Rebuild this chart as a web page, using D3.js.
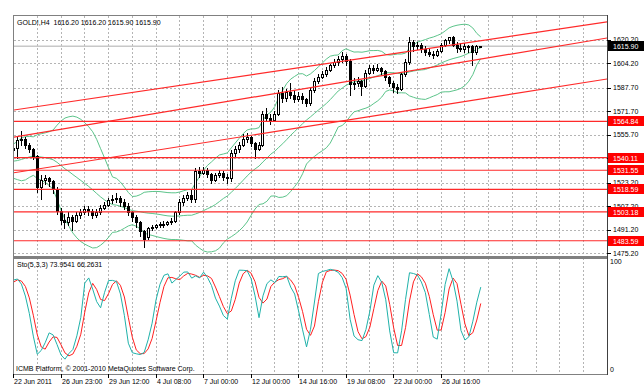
<!DOCTYPE html>
<html>
<head>
<meta charset="utf-8">
<script src="https://cdn.jsdelivr.net/npm/d3@7"></script>
<style>
html, body { margin: 0; padding: 0; background: #fff; }
svg { display: block; font-family: "Liberation Sans", Arial, sans-serif; font-size: 7px; }
</style>
</head>
<body>
<div id="chart"></div>
<script>
// GOLD H4 candles, 22 Jun - 27 Jul 2011
const opens = [1545,1547,1552,1553,1549,1546,1541,1520,1525,1526,1524,1519,1504,1498,1496,1500,1497,1501,1503,1505,
  1504,1501,1503,1506,1508,1511,1512,1513,1510,1507,1503,1500,1496,1490,1486,1492,1493,1494,1495,1495,
  1496,1497,1503,1510,1513,1515,1512,1531,1530,1532,1529,1525,1528,1530,1527,1526,1543,1546,1549,1553,
  1554,1550,1546,1549,1570,1567,1566,1570,1584,1581,1585,1583,1580,1582,1580,1577,1586,1592,1595,1597,
  1600,1603,1605,1607,1609,1606,1590,1591,1592,1589,1598,1601,1600,1601,1599,1595,1591,1588,1587,1597,
  1605,1619,1616,1617,1614,1612,1611,1610,1613,1617,1620,1622,1617,1615,1614,1616,1616,1612,1616.2];
const highs = [1549,1554,1558,1554,1550,1547,1542,1528,1528,1527,1525,1520,1506,1502,1503,1501,1503,1505,1507,1507,
  1505,1505,1508,1510,1513,1515,1516,1514,1512,1509,1504,1501,1497,1491,1493,1494,1495,1496,1497,1497,
  1499,1504,1512,1515,1517,1518,1533,1534,1534,1533,1530,1530,1532,1531,1529,1545,1548,1551,1556,1557,
  1555,1551,1551,1572,1574,1570,1572,1586,1588,1587,1591,1586,1585,1584,1581,1588,1594,1597,1599,1602,
  1604,1607,1609,1612,1611,1607,1594,1595,1593,1600,1603,1603,1604,1602,1600,1596,1592,1590,1598,1607,
  1622,1620,1619,1618,1616,1614,1613,1614,1618,1621,1622.5,1623,1619,1618,1618,1617,1617,1617,1616.2];
const lows = [1542,1540,1549,1547,1544,1539,1517,1512,1522,1521,1516,1502,1495,1492,1494,1491,1496,1499,1502,1501,
  1499,1500,1502,1505,1507,1509,1510,1507,1505,1501,1497,1493,1487,1479,1485,1491,1492,1493,1493,1494,
  1495,1496,1502,1508,1511,1510,1510,1527,1529,1527,1523,1524,1527,1525,1523,1524,1541,1544,1548,1551,
  1548,1540,1545,1548,1565,1563,1565,1569,1578,1579,1581,1578,1579,1577,1575,1576,1585,1591,1594,1596,
  1599,1602,1603,1605,1603,1583,1587,1589,1583,1588,1597,1598,1599,1597,1593,1589,1585,1584,1586,1596,
  1604,1613,1614,1612,1610,1609,1608,1609,1612,1616,1618,1616,1612,1613,1612,1612,1603,1611,1615.9];
const closes = [1547,1552,1553,1549,1546,1541,1520,1525,1526,1524,1519,1504,1498,1496,1500,1497,1501,1503,1505,1504,
  1501,1503,1506,1508,1511,1512,1513,1510,1507,1503,1500,1496,1490,1485,1492,1493,1494,1495,1495,1496,
  1497,1503,1510,1513,1515,1512,1531,1530,1532,1529,1525,1528,1530,1527,1526,1543,1546,1549,1553,1554,
  1550,1546,1549,1570,1567,1566,1570,1584,1581,1585,1583,1580,1582,1580,1577,1586,1592,1595,1597,1600,
  1603,1605,1607,1609,1606,1590,1591,1592,1589,1598,1601,1600,1601,1599,1595,1591,1588,1587,1597,1605,
  1619,1616,1617,1614,1612,1611,1610,1613,1617,1620,1622,1617,1615,1614,1616,1616,1612,1616.2,1615.9];

// bars before the visible window, only used to warm up the indicators
const prevHighs = [1551,1549,1545,1539,1533,1533,1531,1533,1536,1539,1538,1541,1544,1543,1540,1541,1543,1545,1547,1548];
const prevLows = [1545,1542,1536,1530,1526,1527,1525,1527,1530,1533,1533,1535,1539,1538,1535,1536,1538,1540,1542,1543];
const prevCloses = [1548,1544,1538,1532,1528,1530,1527,1531,1534,1537,1535,1539,1542,1540,1537,1539,1541,1543,1545,1546];

// axis labels and captions
const priceTicks = [1620.20, 1604.20, 1587.70, 1571.70, 1555.70, 1539.70, 1523.20, 1507.20, 1491.20, 1475.20];
const timeLabels = ["22 Jun 2011", "26 Jun 23:00", "29 Jun 12:00", "4 Jul 08:00", "7 Jul 00:00",
  "12 Jul 00:00", "14 Jul 16:00", "19 Jul 08:00", "22 Jul 00:00", "26 Jul 16:00"];
const stochCaption = "Sto(5,3,3) 73.9541 66.2631";

// drawn objects
const levels = [1564.84, 1540.11, 1531.55, 1518.59, 1503.18, 1483.59];
const trendStart = [1572.5, 1554.0, 1529.8];   // price at bar 0
const trendEnd = [1632.5, 1621.6, 1593.7];     // price at bar 150
const bid = 1615.90;

const W = 644, H = 386;
const L = 13, R = 607;
const mainTop = 15, mainBottom = 256;
const subTop = 258, subBottom = 374;

const x = d3.scaleLinear().domain([0, 150]).range([13.5, 607.5]);
const y = d3.scaleLinear().domain([1473.2, 1637.2]).range([mainBottom, mainTop]);
const ys = d3.scaleLinear().domain([0, 100]).range([369.5, 261.5]);

const bars = closes.map((c, i) => ({ i, o: opens[i], h: highs[i], l: lows[i], c }));

// Bollinger bands (20, 2)
const allC = prevCloses.concat(closes);
const allH = prevHighs.concat(highs);
const allL = prevLows.concat(lows);
const off = prevCloses.length;
const bands = bars.map(b => {
  const w = allC.slice(b.i + off - 19, b.i + off + 1);
  const m = d3.mean(w);
  const sd = Math.sqrt(d3.mean(w, v => (v - m) * (v - m)));
  return { i: b.i, mid: m, up: m + 2 * sd, lo: m - 2 * sd };
});

// Stochastic (5, 3, 3)
const raw = allC.map((c, j) => {
  if (j < 4) return null;
  const hh = d3.max(allH.slice(j - 4, j + 1));
  const ll = d3.min(allL.slice(j - 4, j + 1));
  return { num: c - ll, den: hh - ll };
});
const kAll = raw.map((r, j) => {
  if (j < 6) return null;
  const n = raw[j].num + raw[j - 1].num + raw[j - 2].num;
  const d = raw[j].den + raw[j - 1].den + raw[j - 2].den;
  return d === 0 ? 100 : 100 * n / d;
});
const stoch = bars.map(b => {
  const j = b.i + off;
  return { i: b.i, k: kAll[j], d: (kAll[j] + kAll[j - 1] + kAll[j - 2]) / 3 };
});

const svg = d3.select('#chart').append('svg')
  .attr('width', W).attr('height', H);

svg.append('defs').append('clipPath').attr('id', 'clipMain')
  .append('rect').attr('x', L + 1).attr('y', mainTop + 1)
  .attr('width', R - L - 1).attr('height', mainBottom - mainTop - 1);
svg.select('defs').append('clipPath').attr('id', 'clipSub')
  .append('rect').attr('x', L + 1).attr('y', subTop)
  .attr('width', R - L - 1).attr('height', subBottom - subTop);

const grid = svg.append('g').attr('stroke', '#b4b4b4').attr('stroke-dasharray', '2,2')
  .attr('shape-rendering', 'crispEdges');

// horizontal grid in main window
grid.selectAll('.hg').data(priceTicks).enter().append('line')
  .attr('x1', L + 1).attr('x2', R)
  .attr('y1', d => Math.round(y(d)) + 0.5).attr('y2', d => Math.round(y(d)) + 0.5);

// vertical grid every 6 bars
const vBars = d3.range(6, 150, 6);
grid.selectAll('.vg').data(vBars).enter().append('line')
  .attr('x1', d => Math.floor(x(d)) + 0.5).attr('x2', d => Math.floor(x(d)) + 0.5)
  .attr('y1', mainTop + 1).attr('y2', mainBottom);
grid.selectAll('.vg2').data(vBars).enter().append('line')
  .attr('x1', d => Math.floor(x(d)) + 0.5).attr('x2', d => Math.floor(x(d)) + 0.5)
  .attr('y1', subTop).attr('y2', subBottom);

// bid line
svg.append('line').attr('x1', L + 1).attr('x2', R)
  .attr('y1', y(bid)).attr('y2', y(bid))
  .attr('stroke', '#c8c8c8').attr('stroke-width', 1.6);

const mainG = svg.append('g').attr('clip-path', 'url(#clipMain)');

// Bollinger lines
['up', 'mid', 'lo'].forEach(key => {
  const line = d3.line().x(d => x(d.i)).y(d => y(d[key]));
  mainG.append('path').datum(bands)
    .attr('fill', 'none').attr('stroke', '#5cc48a').attr('stroke-width', 1)
    .attr('d', line);
});

// candles
const candles = mainG.append('g').attr('shape-rendering', 'crispEdges');
candles.selectAll('.wick').data(bars).enter().append('line')
  .attr('x1', d => Math.floor(x(d.i)) + 0.5).attr('x2', d => Math.floor(x(d.i)) + 0.5)
  .attr('y1', d => Math.round(y(d.h))).attr('y2', d => Math.round(y(d.l)) + 1)
  .attr('stroke', '#000');
candles.selectAll('.body').data(bars).enter().append('rect')
  .each(function (d) {
    const px = Math.floor(x(d.i));
    const top = Math.round(y(Math.max(d.o, d.c)));
    const bot = Math.max(top + 1, Math.round(y(Math.min(d.o, d.c))));
    const sel = d3.select(this);
    if (d.c >= d.o) {
      sel.attr('x', px - 0.5).attr('y', top + 0.5).attr('width', 2).attr('height', Math.max(0, bot - top))
        .attr('fill', '#fff').attr('stroke', '#000');
    } else {
      sel.attr('x', px - 1).attr('y', top).attr('width', 3).attr('height', bot - top + 1)
        .attr('fill', '#000');
    }
  });

// horizontal levels
mainG.selectAll('.lvl').data(levels).enter().append('line')
  .attr('x1', L).attr('x2', R)
  .attr('y1', d => y(d)).attr('y2', d => y(d))
  .attr('stroke', '#ff2a2a').attr('stroke-width', 1.2);

// trend lines
mainG.selectAll('.trend').data(trendStart).enter().append('line')
  .attr('x1', x(0)).attr('x2', x(150))
  .attr('y1', d => y(d)).attr('y2', (d, k) => y(trendEnd[k]))
  .attr('stroke', '#ff2a2a').attr('stroke-width', 1.2);

// stochastic
const subG = svg.append('g').attr('clip-path', 'url(#clipSub)');
subG.append('path').datum(stoch)
  .attr('fill', 'none').attr('stroke', '#ff2020').attr('stroke-width', 1)
  .attr('d', d3.line().x(d => x(d.i)).y(d => ys(d.d)));
subG.append('path').datum(stoch)
  .attr('fill', 'none').attr('stroke', '#20b2aa').attr('stroke-width', 1)
  .attr('d', d3.line().x(d => x(d.i)).y(d => ys(d.k)));

// frames
const frame = svg.append('g').attr('fill', 'none').attr('shape-rendering', 'crispEdges');
frame.append('rect').attr('x', L + 0.5).attr('y', mainTop + 0.5)
  .attr('width', R - L).attr('height', mainBottom - mainTop - 0.5)
  .attr('stroke', '#808080');
frame.append('rect').attr('x', L).attr('y', mainBottom - 0.5).attr('width', R - L + 1).attr('height', 2.5)
  .attr('fill', '#808080');
frame.append('rect').attr('x', L + 0.5).attr('y', subTop + 0.5)
  .attr('width', R - L).attr('height', subBottom - subTop - 0.5)
  .attr('stroke', '#808080');
frame.append('line').attr('x1', R + 0.5).attr('x2', R + 0.5).attr('y1', mainTop).attr('y2', subBottom + 1)
  .attr('stroke', '#404040');

// price axis
const pa = svg.append('g');
pa.selectAll('.ptick').data(priceTicks).enter().append('line')
  .attr('x1', R).attr('x2', R + 4)
  .attr('y1', d => Math.round(y(d)) + 0.5).attr('y2', d => Math.round(y(d)) + 0.5)
  .attr('stroke', '#000').attr('shape-rendering', 'crispEdges');
pa.selectAll('.plab').data(priceTicks).enter().append('text')
  .attr('x', R + 6).attr('y', d => y(d) + 2.5)
  .text(d => d.toFixed(2));

// level labels
const tags = levels.map(v => ({ v, bg: '#ff0000' })).concat([{ v: bid, bg: '#000' }]);
const tagG = pa.selectAll('.tag').data(tags).enter().append('g');
tagG.append('rect')
  .attr('x', R + 1).attr('y', d => Math.round(y(d.v)) - 5)
  .attr('width', W - R).attr('height', 10)
  .attr('fill', d => d.bg);
tagG.append('text')
  .attr('x', R + 6).attr('y', d => Math.round(y(d.v)) + 2.5)
  .attr('fill', '#fff').text(d => d.v.toFixed(2));

// stochastic axis
const sa = svg.append('g');
sa.selectAll('text').data([100, 0]).enter().append('text')
  .attr('x', R + 3).attr('y', d => ys(d) + 2.5).text(d => d);

// time axis
const ta = svg.append('g');
const lblBars = timeLabels.map((t, k) => ({ t, i: k * 12 }));
ta.selectAll('line').data(lblBars).enter().append('line')
  .attr('x1', d => Math.floor(x(d.i)) + 0.5).attr('x2', d => Math.floor(x(d.i)) + 0.5)
  .attr('y1', subBottom).attr('y2', subBottom + 4)
  .attr('stroke', '#000').attr('shape-rendering', 'crispEdges');
ta.selectAll('text').data(lblBars).enter().append('text')
  .attr('x', d => Math.max(L, Math.floor(x(d.i)) + 1)).attr('y', 383.5)
  .text(d => d.t);

// captions
const last = bars[bars.length - 1];
svg.append('text').attr('x', 17).attr('y', 24.5)
  .text(`GOLD!,H4  ${last.o.toFixed(2)} ${last.h.toFixed(2)} ${last.l.toFixed(2)} ${last.c.toFixed(2)}`)
  .attr('xml:space', 'preserve').style('white-space', 'pre');
svg.append('text').attr('x', 17).attr('y', 266.5).text(stochCaption);
svg.append('text').attr('x', 16).attr('y', 371)
  .text('ICMB Platform, \u00a9 2001-2010 MetaQuotes Software Corp.');
</script>
</body>
</html>
